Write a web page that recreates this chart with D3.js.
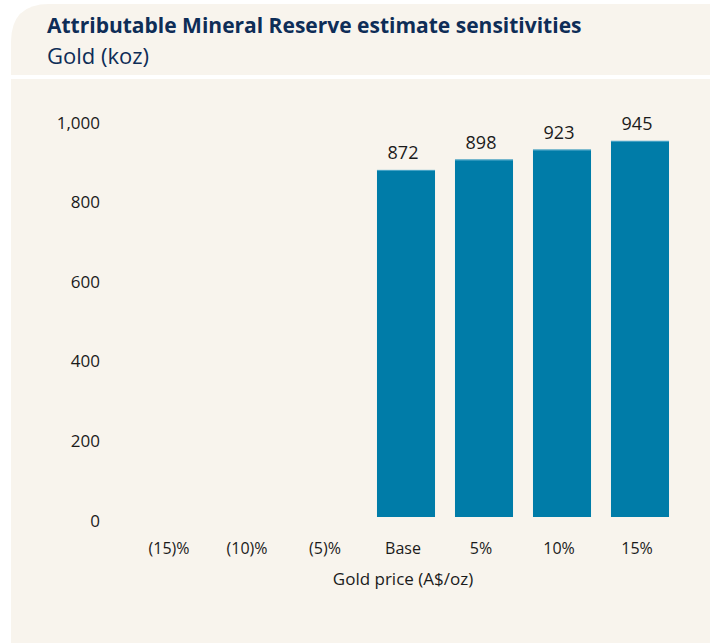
<!DOCTYPE html>
<html><head><meta charset="utf-8">
<script src="https://cdn.jsdelivr.net/npm/d3@7"></script>
<style>html,body{margin:0;padding:0;background:#fff;}svg{display:block;}</style>
</head><body>
<svg id="chart" width="710" height="643"></svg>
<script>
const categories = ["(15)%", "(10)%", "(5)%", "Base", "5%", "10%", "15%"];
const values = [null, null, null, 872, 898, 923, 945];
const yTicks = [0, 200, 400, 600, 800, 1000];
const title = "Attributable Mineral Reserve estimate sensitivities";
const subtitle = "Gold (koz)";
const xTitle = "Gold price (A$/oz)";

const W = 710, H = 643;
const cream = "#f8f4ed", barColor = "#007ca8", navy = "#0e2d57", ink = "#1b1b1b";
const font = "'Open Sans', Lato, sans-serif";
const svg = d3.select("#chart");

// panel with rounded top-left corner
const px = 11, py = 4, r = 38;
svg.append("path")
  .attr("d", `M${px},${H} L${px},${py + r} Q${px},${py} ${px + r},${py} L${W},${py} L${W},${H} Z`)
  .attr("fill", cream);
svg.append("rect").attr("x", px).attr("y", 75).attr("width", W - px).attr("height", 4).attr("fill", "#fff");

svg.append("text").attr("x", 47).attr("y", 33).attr("font-family", font).attr("font-weight", 700)
  .attr("font-size", 21).attr("fill", navy).text(title);
svg.append("text").attr("x", 47).attr("y", 64).attr("font-family", font).attr("font-weight", 400)
  .attr("font-size", 22).attr("fill", navy).text(subtitle);

const x = d3.scaleBand().domain(categories).range([133, 679]).paddingInner(0.256).paddingOuter(0.128);
const y = d3.scaleLinear().domain([0, 1000]).range([517, 119]);

const g = svg.append("g");
const yAxis = g.append("g").attr("transform", "translate(100,0)")
  .call(d3.axisLeft(y).tickValues(yTicks).tickSize(0).tickPadding(0).tickFormat(d3.format(",")));
yAxis.select(".domain").remove();
yAxis.selectAll("text").attr("font-family", font).attr("font-size", 17).attr("fill", ink).attr("dy", "0.65em").attr("y", -2);

const xAxis = g.append("g").attr("transform", "translate(0,517)")
  .call(d3.axisBottom(x).tickSize(0).tickPadding(0));
xAxis.select(".domain").remove();
xAxis.selectAll("text").attr("font-family", font).attr("font-size", 16).attr("fill", ink).attr("y", 37).attr("dy", 0).attr("dx", -3);

const data = categories.map((c, i) => ({c, v: values[i]})).filter(d => d.v != null);
g.selectAll("rect.bar").data(data).enter().append("rect").attr("class", "bar")
  .attr("x", d => x(d.c)).attr("width", x.bandwidth())
  .attr("y", d => y(d.v)).attr("height", d => y(0) - y(d.v)).attr("fill", barColor);
g.selectAll("line.cap").data(data).enter().append("line").attr("class", "cap")
  .attr("x1", d => x(d.c)).attr("x2", d => x(d.c) + x.bandwidth())
  .attr("y1", d => y(d.v) + 0.5).attr("y2", d => y(d.v) + 0.5).attr("stroke", "#4aa6c8").attr("stroke-width", 1);
g.selectAll("text.val").data(data).enter().append("text").attr("class", "val")
  .attr("x", d => x(d.c) + x.bandwidth() / 2 - 3).attr("y", d => y(d.v) - 11)
  .attr("text-anchor", "middle").attr("font-family", font).attr("font-size", 18).attr("fill", ink)
  .text(d => d3.format(",")(d.v));

svg.append("text").attr("x", 403).attr("y", 585).attr("text-anchor", "middle")
  .attr("font-family", font).attr("font-size", 17).attr("fill", ink).text(xTitle);
</script>
</body></html>
